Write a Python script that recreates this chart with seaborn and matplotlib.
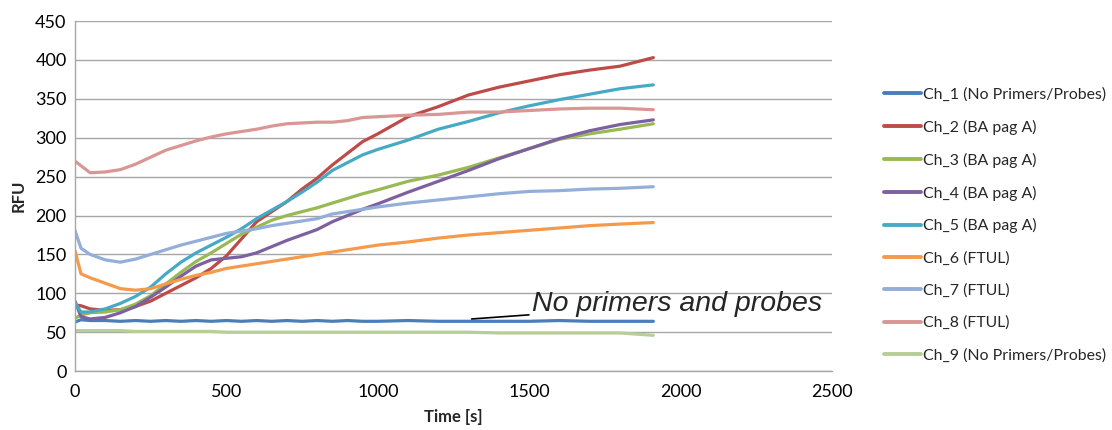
import numpy as np
import pandas as pd
import matplotlib
matplotlib.use("Agg")
import matplotlib.pyplot as plt
import seaborn as sns

time_s = [0, 20, 50, 100, 150, 200, 250, 300, 350, 400, 450, 500, 550, 600, 650, 700, 750,
          800, 850, 900, 950, 1000, 1100, 1200, 1300, 1400, 1500, 1600, 1700, 1800, 1910]

ch1 = [63, 66, 65, 65, 64, 65, 64, 65, 64, 65, 64, 65, 64, 65, 64, 65, 64,
       65, 64, 65, 64, 64, 65, 64, 64, 64, 64, 65, 64, 64, 64]
ch2 = [85, 84, 80, 78, 79, 83, 90, 100, 110, 120, 132, 148, 170, 192, 205, 218, 234,
       248, 265, 280, 295, 305, 327, 340, 355, 365, 373, 381, 387, 392, 403]
ch3 = [68, 72, 75, 76, 79, 86, 97, 112, 127, 141, 152, 164, 176, 185, 194, 200, 205,
       210, 216, 222, 228, 233, 244, 252, 262, 274, 286, 298, 305, 311, 318]
ch4 = [90, 70, 67, 69, 75, 83, 95, 108, 122, 135, 143, 145, 147, 152, 160, 168, 175,
       182, 192, 200, 208, 215, 230, 244, 258, 273, 286, 299, 309, 317, 323]
ch5 = [88, 76, 76, 80, 87, 96, 108, 125, 140, 152, 162, 172, 183, 196, 207, 218, 230,
       243, 258, 268, 278, 285, 297, 311, 321, 332, 341, 349, 356, 363, 368]
ch6 = [155, 125, 120, 113, 106, 104, 106, 112, 118, 123, 127, 132, 135, 138, 141, 144, 147,
       150, 153, 156, 159, 162, 166, 171, 175, 178, 181, 184, 187, 189, 191]
ch7 = [181, 158, 150, 143, 140, 144, 150, 156, 162, 167, 172, 177, 180, 183, 187, 190, 193,
       196, 202, 205, 208, 211, 216, 220, 224, 228, 231, 232, 234, 235, 237]
ch8 = [270, 264, 255, 256, 259, 266, 275, 284, 290, 296, 301, 305, 308, 311, 315, 318, 319,
       320, 320, 322, 326, 327, 329, 330, 333, 333, 335, 337, 338, 338, 336]
ch9 = [52, 52, 52, 52, 52, 51, 51, 51, 51, 51, 51, 50, 50, 50, 50, 50, 50,
       50, 50, 50, 50, 50, 50, 50, 50, 49, 49, 49, 49, 49, 46]

labels = ["Ch_1 (No Primers/Probes)", "Ch_2 (BA pag A)", "Ch_3 (BA pag A)",
          "Ch_4 (BA pag A)", "Ch_5 (BA pag A)", "Ch_6 (FTUL)", "Ch_7 (FTUL)",
          "Ch_8 (FTUL)", "Ch_9 (No Primers/Probes)"]
series = [ch1, ch2, ch3, ch4, ch5, ch6, ch7, ch8, ch9]
colors = ["#4A7EBB", "#BE4B48", "#98B954", "#7D60A0", "#46AAC5", "#F59A4A",
          "#94AEDA", "#DA9694", "#B7CE96"]

rows = []
for lab, vals in zip(labels, series):
    for t, v in zip(time_s, vals):
        rows.append({"Time": t, "RFU": v, "Channel": lab})
df = pd.DataFrame(rows)

sns.set_theme(style="white")
plt.rcParams["font.family"] = ["Lato", "DejaVu Sans"]

fig = plt.figure(figsize=(11.12, 4.30), dpi=100)
ax = fig.add_axes([0.0674, 0.137, 0.6808, 0.814])

sns.lineplot(data=df, x="Time", y="RFU", hue="Channel", hue_order=labels,
             palette=dict(zip(labels, colors)), linewidth=2.3, ax=ax, legend=True)

ax.set_xlim(0, 2500)
ax.set_ylim(0, 450)
ax.set_xticks(np.arange(0, 2501, 500))
ax.set_yticks(np.arange(0, 451, 50))
ax.yaxis.grid(True, color="#A6A6A6", linewidth=1)
ax.xaxis.grid(False)
ax.set_axisbelow(True)
for s in ["top", "right"]:
    ax.spines[s].set_visible(False)
for s in ["left", "bottom"]:
    ax.spines[s].set_color("#A6A6A6")
    ax.spines[s].set_linewidth(1)
ax.tick_params(axis="both", labelsize=13, colors="#000000", length=0, pad=6)
ax.tick_params(axis="x", pad=9)
ax.set_xlabel("Time [s]", fontsize=12, fontweight="bold", labelpad=7)
ax.set_ylabel("RFU", fontsize=12, fontweight="bold", labelpad=6)

ax.annotate("No primers and probes", xy=(1310, 67), xytext=(1510, 86),
            fontsize=20.5, style="italic", family=["Liberation Sans", "DejaVu Sans"],
            va="center", ha="left",
            arrowprops=dict(arrowstyle="-", color="black", lw=1.2,
                            shrinkA=0, shrinkB=0))

leg = ax.legend(loc="center left", bbox_to_anchor=(0.795, 0.477),
                bbox_transform=fig.transFigure, frameon=False, fontsize=11.4,
                handlelength=2.35, handletextpad=0.1, labelspacing=1.13,
                borderpad=0, borderaxespad=0)
for line in leg.get_lines():
    line.set_linewidth(2.8)

fig.savefig("out.png", dpi=100)
